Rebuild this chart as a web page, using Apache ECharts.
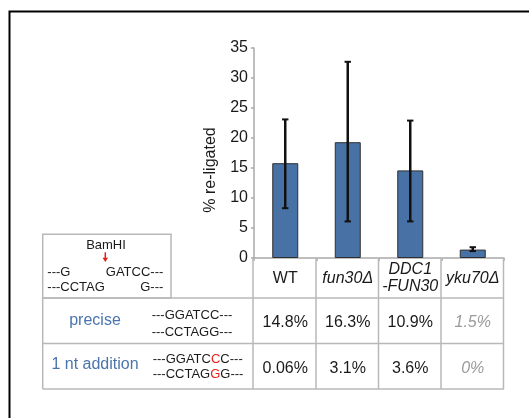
<!DOCTYPE html>
<html>
<head>
<meta charset="utf-8">
<script src="https://cdn.jsdelivr.net/npm/echarts@6/dist/echarts.min.js"></script>
<style>
html,body{margin:0;padding:0;background:#fff;}
#chart{width:529px;height:418px;}
</style>
</head>
<body>
<div id="chart"></div>
<script>
// ---- data ----
const categories = ['WT', 'fun30Δ', 'DDC1\n-FUN30', 'yku70Δ'];
const italicCategory = [false, true, true, true];
const meanValues = [15.8, 19.3, 14.6, 1.4];
const errLow = [8.3, 6.1, 6.1, 1.15];
const errHigh = [23.1, 32.7, 22.9, 1.8];
const yMin = 0, yMax = 35, yInterval = 5;
const yAxisTitle = '% re-ligated';
const preciseValues = ['14.8%', '16.3%', '10.9%', '1.5%'];
const additionValues = ['0.06%', '3.1%', '3.6%', '0%'];
const grayedColumn = [false, false, false, true];
const rowLabels = ['precise', '1 nt addition'];
const preciseSeq = ['---GGATCC---', '---CCTAGG---'];
const additionSeq = ['---GGATC{r|C}C---', '---CCTAG{r|G}G---'];

const FONT = '"Liberation Sans", Arial, Helvetica, sans-serif';
const chart = echarts.init(document.getElementById('chart'), null, {renderer: 'canvas'});

const axisGray = '#a9a9a9';
const option = {
  animation: false,
  backgroundColor: '#fff',
  grid: {left: 254, right: 25, top: 48, bottom: 160},
  xAxis: {
    type: 'category',
    data: categories,
    axisLine: {lineStyle: {color: axisGray, width: 1.5}},
    axisTick: {show: true, length: 3, lineStyle: {color: axisGray, width: 1.5}},
    axisLabel: {show: false}
  },
  yAxis: {
    type: 'value', min: yMin, max: yMax, interval: yInterval,
    axisLine: {show: true, lineStyle: {color: axisGray, width: 1.5}},
    axisTick: {show: true, length: 3, lineStyle: {color: axisGray, width: 1.5}},
    axisLabel: {color: '#1a1a1a', fontFamily: FONT, fontSize: 16, margin: 6},
    splitLine: {show: false}
  },
  series: [
    {
      type: 'bar', data: meanValues, barWidth: 26,
      itemStyle: {color: '#4872a6', borderColor: '#2f2f2f', borderWidth: 1},
      z: 2
    },
    {
      type: 'custom', z: 3,
      data: categories.map((c, i) => [i, errLow[i], errHigh[i]]),
      renderItem: function (params, api) {
        const lo = api.coord([api.value(0), api.value(1)]);
        const hi = api.coord([api.value(0), api.value(2)]);
        const cw = 3.2;
        return {
          type: 'group',
          children: [
            {type: 'line', shape: {x1: lo[0], y1: lo[1], x2: hi[0], y2: hi[1]}, style: {stroke: '#111', lineWidth: 2.5}},
            {type: 'line', shape: {x1: lo[0] - cw, y1: lo[1], x2: lo[0] + cw, y2: lo[1]}, style: {stroke: '#111', lineWidth: 2}},
            {type: 'line', shape: {x1: hi[0] - cw, y1: hi[1], x2: hi[0] + cw, y2: hi[1]}, style: {stroke: '#111', lineWidth: 2}}
          ]
        };
      }
    }
  ]
};
chart.setOption(option);

// ---- table drawn under the axis, aligned with the category scale ----
const centers = categories.map((c, i) => chart.convertToPixel({xAxisIndex: 0}, i));
const colW = centers.length > 1 ? centers[1] - centers[0] : 62.5;
const tableLeft = 42.7;
const axisY = chart.convertToPixel({yAxisIndex: 0}, yMin);
const colLeft = centers[0] - colW / 2;
const colRight = centers[centers.length - 1] + colW / 2;
const rowY = [axisY, 298, 343.5, 389];
const lineGray = '#b8b8b8';
const lw = 1.5;
const g = [];
function hline(x1, x2, y) {
  g.push({type: 'line', shape: {x1: x1, y1: y, x2: x2, y2: y}, style: {stroke: lineGray, lineWidth: lw}, z: 1});
}
function vline(x, y1, y2) {
  g.push({type: 'line', shape: {x1: x, y1: y1, x2: x, y2: y2}, style: {stroke: lineGray, lineWidth: lw}, z: 1});
}
// frame
g.push({type: 'rect', shape: {x: 9.5, y: 11.5, width: 700, height: 700}, style: {fill: null, stroke: '#000', lineWidth: 2}, z: 0});
// y axis title
g.push({type: 'text', x: 210.5, y: 170, rotation: Math.PI / 2, style: {text: yAxisTitle, fill: '#1a1a1a', font: '16px ' + FONT, align: 'center', verticalAlign: 'middle'}, z: 2});
// BamHI box
g.push({type: 'rect', shape: {x: tableLeft, y: 234.3, width: 171 - tableLeft, height: rowY[1] - 234.3}, style: {fill: null, stroke: lineGray, lineWidth: lw}, z: 1});
hline(tableLeft, colRight, rowY[1]);
hline(tableLeft, colRight, rowY[2]);
hline(tableLeft, colRight, rowY[3]);
vline(tableLeft, rowY[1], rowY[3]);
for (let i = 0; i <= centers.length; i++) {
  vline(colLeft - 0.5 + i * colW + (i === 0 ? -0.5 : 0), rowY[0], rowY[3]);
}
// header labels (category names)
centers.forEach((cx, i) => {
  const lines = categories[i].split('\n');
  const lh = 17;
  const c0 = 278.5 - (lines.length - 1) * lh / 2;
  lines.forEach((t, k) => {
    g.push({type: 'text', x: cx, y: c0 + k * lh, style: {
      text: t, fill: '#1a1a1a',
      font: (italicCategory[i] ? 'italic ' : '') + '16px ' + FONT,
      align: 'center', verticalAlign: 'middle'
    }, z: 2});
  });
});
// values
const valStyle = (i) => ({
  fill: grayedColumn[i] ? '#9a9a9a' : '#1a1a1a',
  font: (grayedColumn[i] ? 'italic ' : '') + '16px ' + FONT,
  align: 'center', verticalAlign: 'middle'
});
centers.forEach((cx, i) => {
  g.push({type: 'text', x: cx, y: 322.5, style: Object.assign({text: preciseValues[i]}, valStyle(i)), z: 2});
  g.push({type: 'text', x: cx, y: 369, style: Object.assign({text: additionValues[i]}, valStyle(i)), z: 2});
});
// row labels
const blue = '#4a74ad';
g.push({type: 'text', x: 95, y: 321, style: {text: rowLabels[0], fill: blue, font: '16px ' + FONT, align: 'center', verticalAlign: 'middle'}});
g.push({type: 'text', x: 95, y: 364.5, style: {text: rowLabels[1], fill: blue, font: '16px ' + FONT, align: 'center', verticalAlign: 'middle'}});
// sequences
const seqFont = '13px ' + FONT;
g.push({type: 'text', x: 151.7, y: 315.5, style: {text: preciseSeq[0], fill: '#1a1a1a', font: seqFont, align: 'left', verticalAlign: 'middle'}});
g.push({type: 'text', x: 151.7, y: 332.3, style: {text: preciseSeq[1], fill: '#1a1a1a', font: seqFont, align: 'left', verticalAlign: 'middle'}});
const richSeq = {r: {fill: '#e3211c', font: seqFont}};
g.push({type: 'text', x: 152.7, y: 359.6, style: {text: additionSeq[0], fill: '#1a1a1a', font: seqFont, align: 'left', verticalAlign: 'middle', rich: richSeq}});
g.push({type: 'text', x: 152.7, y: 374.6, style: {text: additionSeq[1], fill: '#1a1a1a', font: seqFont, align: 'left', verticalAlign: 'middle', rich: richSeq}});
// BamHI box content
g.push({type: 'text', x: 106, y: 245.3, style: {text: 'BamHI', fill: '#1a1a1a', font: seqFont, align: 'center', verticalAlign: 'middle'}});
g.push({type: 'line', shape: {x1: 105.3, y1: 252.3, x2: 105.3, y2: 258.5}, style: {stroke: '#e3211c', lineWidth: 1.5}});
g.push({type: 'polygon', shape: {points: [[102.5, 257.8], [108.1, 257.8], [105.3, 262]]}, style: {fill: '#e3211c'}});
g.push({type: 'text', x: 47.3, y: 272.3, style: {text: '---G', fill: '#1a1a1a', font: seqFont, align: 'left', verticalAlign: 'middle'}});
g.push({type: 'text', x: 163.3, y: 272.3, style: {text: 'GATCC---', fill: '#1a1a1a', font: seqFont, align: 'right', verticalAlign: 'middle'}});
g.push({type: 'text', x: 47.3, y: 287.3, style: {text: '---CCTAG', fill: '#1a1a1a', font: seqFont, align: 'left', verticalAlign: 'middle'}});
g.push({type: 'text', x: 163.3, y: 287.3, style: {text: 'G---', fill: '#1a1a1a', font: seqFont, align: 'right', verticalAlign: 'middle'}});

chart.setOption({graphic: {elements: g}});
</script>
</body>
</html>
